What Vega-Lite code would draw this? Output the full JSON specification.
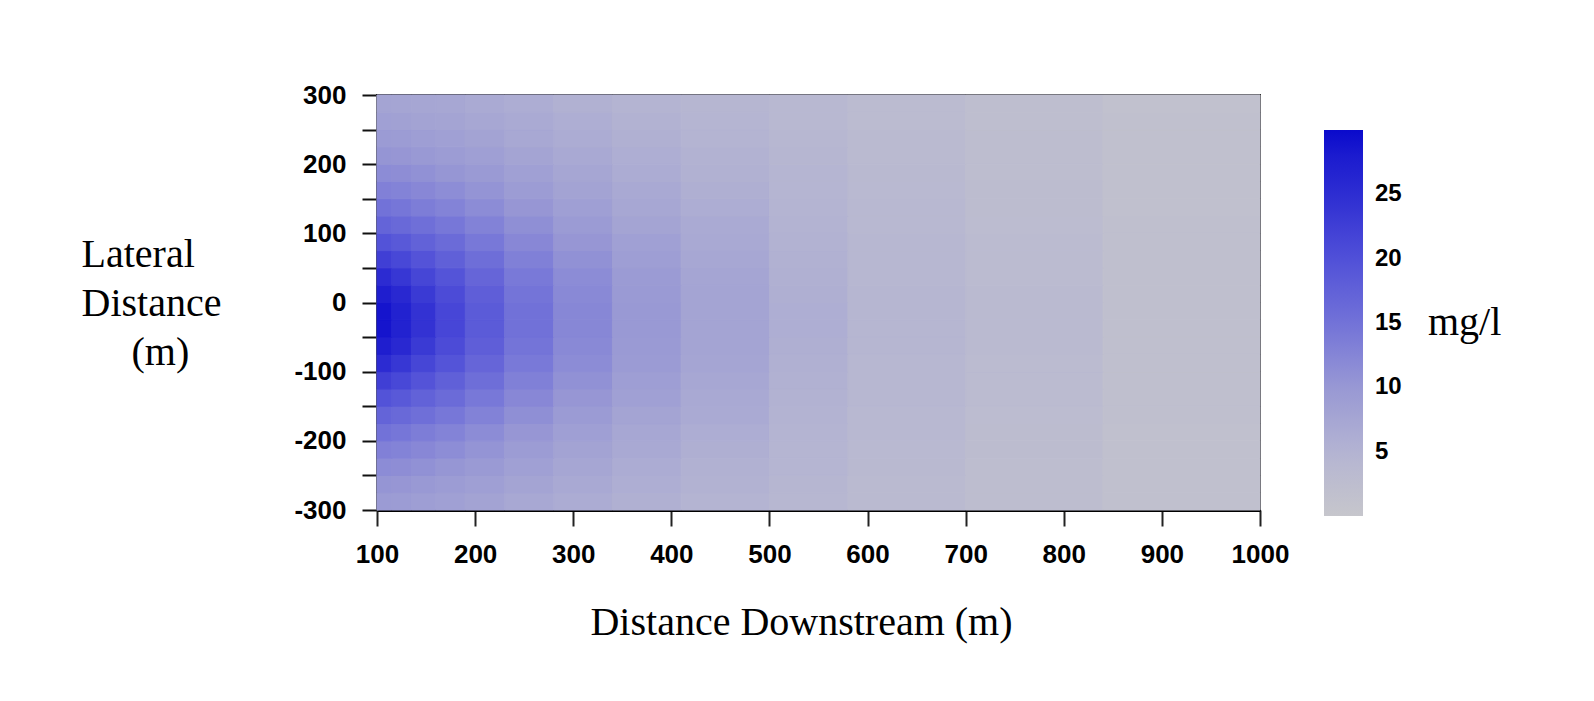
{
"$schema": "https://vega.github.io/schema/vega-lite/v6.json",
"width": 883, "height": 415,
"autosize": {"type": "none"},
"padding": {"left": 377, "top": 95, "right": 334, "bottom": 191},
"background": "white",
"config": {"view": {"stroke": "#333", "strokeWidth": 2}},
"data": {"values": [
{"x":100,"x2":115,"y":-300,"y2":-275,"c":9.4},{"x":115,"x2":135,"y":-300,"y2":-275,"c":9.2},{"x":135,"x2":160,"y":-300,"y2":-275,"c":8.9},{"x":160,"x2":190,"y":-300,"y2":-275,"c":8.5},{"x":190,"x2":230,"y":-300,"y2":-275,"c":8.0},{"x":230,"x2":280,"y":-300,"y2":-275,"c":7.2},{"x":280,"x2":340,"y":-300,"y2":-275,"c":6.4},{"x":340,"x2":410,"y":-300,"y2":-275,"c":5.7},{"x":410,"x2":500,"y":-300,"y2":-275,"c":5.0},{"x":500,"x2":580,"y":-300,"y2":-275,"c":4.2},{"x":580,"x2":700,"y":-300,"y2":-275,"c":3.2},{"x":700,"x2":840,"y":-300,"y2":-275,"c":2.4},{"x":840,"x2":1000,"y":-300,"y2":-275,"c":1.6},
{"x":100,"x2":115,"y":-275,"y2":-250,"c":10.4},{"x":115,"x2":135,"y":-275,"y2":-250,"c":10.2},{"x":135,"x2":160,"y":-275,"y2":-250,"c":9.8},{"x":160,"x2":190,"y":-275,"y2":-250,"c":9.3},{"x":190,"x2":230,"y":-275,"y2":-250,"c":8.7},{"x":230,"x2":280,"y":-275,"y2":-250,"c":7.8},{"x":280,"x2":340,"y":-275,"y2":-250,"c":6.9},{"x":340,"x2":410,"y":-275,"y2":-250,"c":6.0},{"x":410,"x2":500,"y":-275,"y2":-250,"c":5.3},{"x":500,"x2":580,"y":-275,"y2":-250,"c":4.4},{"x":580,"x2":700,"y":-275,"y2":-250,"c":3.4},{"x":700,"x2":840,"y":-275,"y2":-250,"c":2.5},{"x":840,"x2":1000,"y":-275,"y2":-250,"c":1.7},
{"x":100,"x2":115,"y":-250,"y2":-225,"c":11.6},{"x":115,"x2":135,"y":-250,"y2":-225,"c":11.4},{"x":135,"x2":160,"y":-250,"y2":-225,"c":10.9},{"x":160,"x2":190,"y":-250,"y2":-225,"c":10.3},{"x":190,"x2":230,"y":-250,"y2":-225,"c":9.6},{"x":230,"x2":280,"y":-250,"y2":-225,"c":8.5},{"x":280,"x2":340,"y":-250,"y2":-225,"c":7.5},{"x":340,"x2":410,"y":-250,"y2":-225,"c":6.5},{"x":410,"x2":500,"y":-250,"y2":-225,"c":5.6},{"x":500,"x2":580,"y":-250,"y2":-225,"c":4.6},{"x":580,"x2":700,"y":-250,"y2":-225,"c":3.5},{"x":700,"x2":840,"y":-250,"y2":-225,"c":2.6},{"x":840,"x2":1000,"y":-250,"y2":-225,"c":1.7},
{"x":100,"x2":115,"y":-225,"y2":-200,"c":13.1},{"x":115,"x2":135,"y":-225,"y2":-200,"c":12.8},{"x":135,"x2":160,"y":-225,"y2":-200,"c":12.2},{"x":160,"x2":190,"y":-225,"y2":-200,"c":11.5},{"x":190,"x2":230,"y":-225,"y2":-200,"c":10.5},{"x":230,"x2":280,"y":-225,"y2":-200,"c":9.3},{"x":280,"x2":340,"y":-225,"y2":-200,"c":8.1},{"x":340,"x2":410,"y":-225,"y2":-200,"c":6.9},{"x":410,"x2":500,"y":-225,"y2":-200,"c":5.9},{"x":500,"x2":580,"y":-225,"y2":-200,"c":4.8},{"x":580,"x2":700,"y":-225,"y2":-200,"c":3.7},{"x":700,"x2":840,"y":-225,"y2":-200,"c":2.7},{"x":840,"x2":1000,"y":-225,"y2":-200,"c":1.8},
{"x":100,"x2":115,"y":-200,"y2":-175,"c":15.0},{"x":115,"x2":135,"y":-200,"y2":-175,"c":14.5},{"x":135,"x2":160,"y":-200,"y2":-175,"c":13.6},{"x":160,"x2":190,"y":-200,"y2":-175,"c":12.8},{"x":190,"x2":230,"y":-200,"y2":-175,"c":11.6},{"x":230,"x2":280,"y":-200,"y2":-175,"c":10.2},{"x":280,"x2":340,"y":-200,"y2":-175,"c":8.8},{"x":340,"x2":410,"y":-200,"y2":-175,"c":7.4},{"x":410,"x2":500,"y":-200,"y2":-175,"c":6.3},{"x":500,"x2":580,"y":-200,"y2":-175,"c":5.0},{"x":580,"x2":700,"y":-200,"y2":-175,"c":3.8},{"x":700,"x2":840,"y":-200,"y2":-175,"c":2.8},{"x":840,"x2":1000,"y":-200,"y2":-175,"c":1.8},
{"x":100,"x2":115,"y":-175,"y2":-150,"c":17.1},{"x":115,"x2":135,"y":-175,"y2":-150,"c":16.4},{"x":135,"x2":160,"y":-175,"y2":-150,"c":15.4},{"x":160,"x2":190,"y":-175,"y2":-150,"c":14.3},{"x":190,"x2":230,"y":-175,"y2":-150,"c":12.9},{"x":230,"x2":280,"y":-175,"y2":-150,"c":11.2},{"x":280,"x2":340,"y":-175,"y2":-150,"c":9.5},{"x":340,"x2":410,"y":-175,"y2":-150,"c":7.9},{"x":410,"x2":500,"y":-175,"y2":-150,"c":6.7},{"x":500,"x2":580,"y":-175,"y2":-150,"c":5.2},{"x":580,"x2":700,"y":-175,"y2":-150,"c":4.0},{"x":700,"x2":840,"y":-175,"y2":-150,"c":2.9},{"x":840,"x2":1000,"y":-175,"y2":-150,"c":1.9},
{"x":100,"x2":115,"y":-150,"y2":-125,"c":19.6},{"x":115,"x2":135,"y":-150,"y2":-125,"c":18.7},{"x":135,"x2":160,"y":-150,"y2":-125,"c":17.4},{"x":160,"x2":190,"y":-150,"y2":-125,"c":16.0},{"x":190,"x2":230,"y":-150,"y2":-125,"c":14.2},{"x":230,"x2":280,"y":-150,"y2":-125,"c":12.2},{"x":280,"x2":340,"y":-150,"y2":-125,"c":10.2},{"x":340,"x2":410,"y":-150,"y2":-125,"c":8.5},{"x":410,"x2":500,"y":-150,"y2":-125,"c":7.0},{"x":500,"x2":580,"y":-150,"y2":-125,"c":5.4},{"x":580,"x2":700,"y":-150,"y2":-125,"c":4.1},{"x":700,"x2":840,"y":-150,"y2":-125,"c":3.0},{"x":840,"x2":1000,"y":-150,"y2":-125,"c":1.9},
{"x":100,"x2":115,"y":-125,"y2":-100,"c":22.4},{"x":115,"x2":135,"y":-125,"y2":-100,"c":21.2},{"x":135,"x2":160,"y":-125,"y2":-100,"c":19.5},{"x":160,"x2":190,"y":-125,"y2":-100,"c":17.7},{"x":190,"x2":230,"y":-125,"y2":-100,"c":15.6},{"x":230,"x2":280,"y":-125,"y2":-100,"c":13.2},{"x":280,"x2":340,"y":-125,"y2":-100,"c":10.9},{"x":340,"x2":410,"y":-125,"y2":-100,"c":9.0},{"x":410,"x2":500,"y":-125,"y2":-100,"c":7.3},{"x":500,"x2":580,"y":-125,"y2":-100,"c":5.6},{"x":580,"x2":700,"y":-125,"y2":-100,"c":4.2},{"x":700,"x2":840,"y":-125,"y2":-100,"c":3.1},{"x":840,"x2":1000,"y":-125,"y2":-100,"c":1.9},
{"x":100,"x2":115,"y":-100,"y2":-75,"c":25.1},{"x":115,"x2":135,"y":-100,"y2":-75,"c":23.6},{"x":135,"x2":160,"y":-100,"y2":-75,"c":21.5},{"x":160,"x2":190,"y":-100,"y2":-75,"c":19.4},{"x":190,"x2":230,"y":-100,"y2":-75,"c":16.9},{"x":230,"x2":280,"y":-100,"y2":-75,"c":14.1},{"x":280,"x2":340,"y":-100,"y2":-75,"c":11.6},{"x":340,"x2":410,"y":-100,"y2":-75,"c":9.4},{"x":410,"x2":500,"y":-100,"y2":-75,"c":7.6},{"x":500,"x2":580,"y":-100,"y2":-75,"c":5.8},{"x":580,"x2":700,"y":-100,"y2":-75,"c":4.3},{"x":700,"x2":840,"y":-100,"y2":-75,"c":3.1},{"x":840,"x2":1000,"y":-100,"y2":-75,"c":2.0},
{"x":100,"x2":115,"y":-75,"y2":-50,"c":27.5},{"x":115,"x2":135,"y":-75,"y2":-50,"c":25.7},{"x":135,"x2":160,"y":-75,"y2":-50,"c":23.2},{"x":160,"x2":190,"y":-75,"y2":-50,"c":20.7},{"x":190,"x2":230,"y":-75,"y2":-50,"c":17.9},{"x":230,"x2":280,"y":-75,"y2":-50,"c":14.8},{"x":280,"x2":340,"y":-75,"y2":-50,"c":12.0},{"x":340,"x2":410,"y":-75,"y2":-50,"c":9.7},{"x":410,"x2":500,"y":-75,"y2":-50,"c":7.8},{"x":500,"x2":580,"y":-75,"y2":-50,"c":5.9},{"x":580,"x2":700,"y":-75,"y2":-50,"c":4.4},{"x":700,"x2":840,"y":-75,"y2":-50,"c":3.2},{"x":840,"x2":1000,"y":-75,"y2":-50,"c":2.0},
{"x":100,"x2":115,"y":-50,"y2":-25,"c":28.9},{"x":115,"x2":135,"y":-50,"y2":-25,"c":26.9},{"x":135,"x2":160,"y":-50,"y2":-25,"c":24.2},{"x":160,"x2":190,"y":-50,"y2":-25,"c":21.4},{"x":190,"x2":230,"y":-50,"y2":-25,"c":18.4},{"x":230,"x2":280,"y":-50,"y2":-25,"c":15.2},{"x":280,"x2":340,"y":-50,"y2":-25,"c":12.3},{"x":340,"x2":410,"y":-50,"y2":-25,"c":9.9},{"x":410,"x2":500,"y":-50,"y2":-25,"c":7.9},{"x":500,"x2":580,"y":-50,"y2":-25,"c":6.0},{"x":580,"x2":700,"y":-50,"y2":-25,"c":4.4},{"x":700,"x2":840,"y":-50,"y2":-25,"c":3.2},{"x":840,"x2":1000,"y":-50,"y2":-25,"c":2.0},
{"x":100,"x2":115,"y":-25,"y2":0,"c":28.9},{"x":115,"x2":135,"y":-25,"y2":0,"c":26.9},{"x":135,"x2":160,"y":-25,"y2":0,"c":24.2},{"x":160,"x2":190,"y":-25,"y2":0,"c":21.4},{"x":190,"x2":230,"y":-25,"y2":0,"c":18.4},{"x":230,"x2":280,"y":-25,"y2":0,"c":15.2},{"x":280,"x2":340,"y":-25,"y2":0,"c":12.3},{"x":340,"x2":410,"y":-25,"y2":0,"c":9.9},{"x":410,"x2":500,"y":-25,"y2":0,"c":7.9},{"x":500,"x2":580,"y":-25,"y2":0,"c":6.0},{"x":580,"x2":700,"y":-25,"y2":0,"c":4.4},{"x":700,"x2":840,"y":-25,"y2":0,"c":3.2},{"x":840,"x2":1000,"y":-25,"y2":0,"c":2.0},
{"x":100,"x2":115,"y":0,"y2":25,"c":27.5},{"x":115,"x2":135,"y":0,"y2":25,"c":25.7},{"x":135,"x2":160,"y":0,"y2":25,"c":23.2},{"x":160,"x2":190,"y":0,"y2":25,"c":20.7},{"x":190,"x2":230,"y":0,"y2":25,"c":17.9},{"x":230,"x2":280,"y":0,"y2":25,"c":14.8},{"x":280,"x2":340,"y":0,"y2":25,"c":12.0},{"x":340,"x2":410,"y":0,"y2":25,"c":9.7},{"x":410,"x2":500,"y":0,"y2":25,"c":7.8},{"x":500,"x2":580,"y":0,"y2":25,"c":5.9},{"x":580,"x2":700,"y":0,"y2":25,"c":4.4},{"x":700,"x2":840,"y":0,"y2":25,"c":3.2},{"x":840,"x2":1000,"y":0,"y2":25,"c":2.0},
{"x":100,"x2":115,"y":25,"y2":50,"c":25.1},{"x":115,"x2":135,"y":25,"y2":50,"c":23.6},{"x":135,"x2":160,"y":25,"y2":50,"c":21.5},{"x":160,"x2":190,"y":25,"y2":50,"c":19.4},{"x":190,"x2":230,"y":25,"y2":50,"c":16.9},{"x":230,"x2":280,"y":25,"y2":50,"c":14.1},{"x":280,"x2":340,"y":25,"y2":50,"c":11.6},{"x":340,"x2":410,"y":25,"y2":50,"c":9.4},{"x":410,"x2":500,"y":25,"y2":50,"c":7.6},{"x":500,"x2":580,"y":25,"y2":50,"c":5.8},{"x":580,"x2":700,"y":25,"y2":50,"c":4.3},{"x":700,"x2":840,"y":25,"y2":50,"c":3.1},{"x":840,"x2":1000,"y":25,"y2":50,"c":2.0},
{"x":100,"x2":115,"y":50,"y2":75,"c":22.4},{"x":115,"x2":135,"y":50,"y2":75,"c":21.2},{"x":135,"x2":160,"y":50,"y2":75,"c":19.5},{"x":160,"x2":190,"y":50,"y2":75,"c":17.7},{"x":190,"x2":230,"y":50,"y2":75,"c":15.6},{"x":230,"x2":280,"y":50,"y2":75,"c":13.2},{"x":280,"x2":340,"y":50,"y2":75,"c":10.9},{"x":340,"x2":410,"y":50,"y2":75,"c":9.0},{"x":410,"x2":500,"y":50,"y2":75,"c":7.3},{"x":500,"x2":580,"y":50,"y2":75,"c":5.6},{"x":580,"x2":700,"y":50,"y2":75,"c":4.2},{"x":700,"x2":840,"y":50,"y2":75,"c":3.1},{"x":840,"x2":1000,"y":50,"y2":75,"c":1.9},
{"x":100,"x2":115,"y":75,"y2":100,"c":19.6},{"x":115,"x2":135,"y":75,"y2":100,"c":18.7},{"x":135,"x2":160,"y":75,"y2":100,"c":17.4},{"x":160,"x2":190,"y":75,"y2":100,"c":16.0},{"x":190,"x2":230,"y":75,"y2":100,"c":14.2},{"x":230,"x2":280,"y":75,"y2":100,"c":12.2},{"x":280,"x2":340,"y":75,"y2":100,"c":10.2},{"x":340,"x2":410,"y":75,"y2":100,"c":8.5},{"x":410,"x2":500,"y":75,"y2":100,"c":7.0},{"x":500,"x2":580,"y":75,"y2":100,"c":5.4},{"x":580,"x2":700,"y":75,"y2":100,"c":4.1},{"x":700,"x2":840,"y":75,"y2":100,"c":3.0},{"x":840,"x2":1000,"y":75,"y2":100,"c":1.9},
{"x":100,"x2":115,"y":100,"y2":125,"c":17.1},{"x":115,"x2":135,"y":100,"y2":125,"c":16.4},{"x":135,"x2":160,"y":100,"y2":125,"c":15.4},{"x":160,"x2":190,"y":100,"y2":125,"c":14.3},{"x":190,"x2":230,"y":100,"y2":125,"c":12.9},{"x":230,"x2":280,"y":100,"y2":125,"c":11.2},{"x":280,"x2":340,"y":100,"y2":125,"c":9.5},{"x":340,"x2":410,"y":100,"y2":125,"c":7.9},{"x":410,"x2":500,"y":100,"y2":125,"c":6.7},{"x":500,"x2":580,"y":100,"y2":125,"c":5.2},{"x":580,"x2":700,"y":100,"y2":125,"c":4.0},{"x":700,"x2":840,"y":100,"y2":125,"c":2.9},{"x":840,"x2":1000,"y":100,"y2":125,"c":1.9},
{"x":100,"x2":115,"y":125,"y2":150,"c":15.0},{"x":115,"x2":135,"y":125,"y2":150,"c":14.5},{"x":135,"x2":160,"y":125,"y2":150,"c":13.6},{"x":160,"x2":190,"y":125,"y2":150,"c":12.8},{"x":190,"x2":230,"y":125,"y2":150,"c":11.6},{"x":230,"x2":280,"y":125,"y2":150,"c":10.2},{"x":280,"x2":340,"y":125,"y2":150,"c":8.8},{"x":340,"x2":410,"y":125,"y2":150,"c":7.4},{"x":410,"x2":500,"y":125,"y2":150,"c":6.3},{"x":500,"x2":580,"y":125,"y2":150,"c":5.0},{"x":580,"x2":700,"y":125,"y2":150,"c":3.8},{"x":700,"x2":840,"y":125,"y2":150,"c":2.8},{"x":840,"x2":1000,"y":125,"y2":150,"c":1.8},
{"x":100,"x2":115,"y":150,"y2":175,"c":13.1},{"x":115,"x2":135,"y":150,"y2":175,"c":12.8},{"x":135,"x2":160,"y":150,"y2":175,"c":12.2},{"x":160,"x2":190,"y":150,"y2":175,"c":11.5},{"x":190,"x2":230,"y":150,"y2":175,"c":10.5},{"x":230,"x2":280,"y":150,"y2":175,"c":9.3},{"x":280,"x2":340,"y":150,"y2":175,"c":8.1},{"x":340,"x2":410,"y":150,"y2":175,"c":6.9},{"x":410,"x2":500,"y":150,"y2":175,"c":5.9},{"x":500,"x2":580,"y":150,"y2":175,"c":4.8},{"x":580,"x2":700,"y":150,"y2":175,"c":3.7},{"x":700,"x2":840,"y":150,"y2":175,"c":2.7},{"x":840,"x2":1000,"y":150,"y2":175,"c":1.8},
{"x":100,"x2":115,"y":175,"y2":200,"c":11.6},{"x":115,"x2":135,"y":175,"y2":200,"c":11.4},{"x":135,"x2":160,"y":175,"y2":200,"c":10.9},{"x":160,"x2":190,"y":175,"y2":200,"c":10.3},{"x":190,"x2":230,"y":175,"y2":200,"c":9.6},{"x":230,"x2":280,"y":175,"y2":200,"c":8.5},{"x":280,"x2":340,"y":175,"y2":200,"c":7.5},{"x":340,"x2":410,"y":175,"y2":200,"c":6.5},{"x":410,"x2":500,"y":175,"y2":200,"c":5.6},{"x":500,"x2":580,"y":175,"y2":200,"c":4.6},{"x":580,"x2":700,"y":175,"y2":200,"c":3.5},{"x":700,"x2":840,"y":175,"y2":200,"c":2.6},{"x":840,"x2":1000,"y":175,"y2":200,"c":1.7},
{"x":100,"x2":115,"y":200,"y2":225,"c":10.4},{"x":115,"x2":135,"y":200,"y2":225,"c":10.2},{"x":135,"x2":160,"y":200,"y2":225,"c":9.8},{"x":160,"x2":190,"y":200,"y2":225,"c":9.3},{"x":190,"x2":230,"y":200,"y2":225,"c":8.7},{"x":230,"x2":280,"y":200,"y2":225,"c":7.8},{"x":280,"x2":340,"y":200,"y2":225,"c":6.9},{"x":340,"x2":410,"y":200,"y2":225,"c":6.0},{"x":410,"x2":500,"y":200,"y2":225,"c":5.3},{"x":500,"x2":580,"y":200,"y2":225,"c":4.4},{"x":580,"x2":700,"y":200,"y2":225,"c":3.4},{"x":700,"x2":840,"y":200,"y2":225,"c":2.5},{"x":840,"x2":1000,"y":200,"y2":225,"c":1.7},
{"x":100,"x2":115,"y":225,"y2":250,"c":9.4},{"x":115,"x2":135,"y":225,"y2":250,"c":9.2},{"x":135,"x2":160,"y":225,"y2":250,"c":8.9},{"x":160,"x2":190,"y":225,"y2":250,"c":8.5},{"x":190,"x2":230,"y":225,"y2":250,"c":8.0},{"x":230,"x2":280,"y":225,"y2":250,"c":7.2},{"x":280,"x2":340,"y":225,"y2":250,"c":6.4},{"x":340,"x2":410,"y":225,"y2":250,"c":5.7},{"x":410,"x2":500,"y":225,"y2":250,"c":5.0},{"x":500,"x2":580,"y":225,"y2":250,"c":4.2},{"x":580,"x2":700,"y":225,"y2":250,"c":3.2},{"x":700,"x2":840,"y":225,"y2":250,"c":2.4},{"x":840,"x2":1000,"y":225,"y2":250,"c":1.6},
{"x":100,"x2":115,"y":250,"y2":275,"c":8.5},{"x":115,"x2":135,"y":250,"y2":275,"c":8.4},{"x":135,"x2":160,"y":250,"y2":275,"c":8.1},{"x":160,"x2":190,"y":250,"y2":275,"c":7.8},{"x":190,"x2":230,"y":250,"y2":275,"c":7.4},{"x":230,"x2":280,"y":250,"y2":275,"c":6.7},{"x":280,"x2":340,"y":250,"y2":275,"c":6.0},{"x":340,"x2":410,"y":250,"y2":275,"c":5.3},{"x":410,"x2":500,"y":250,"y2":275,"c":4.7},{"x":500,"x2":580,"y":250,"y2":275,"c":4.0},{"x":580,"x2":700,"y":250,"y2":275,"c":3.1},{"x":700,"x2":840,"y":250,"y2":275,"c":2.3},{"x":840,"x2":1000,"y":250,"y2":275,"c":1.6},
{"x":100,"x2":115,"y":275,"y2":300,"c":7.8},{"x":115,"x2":135,"y":275,"y2":300,"c":7.7},{"x":135,"x2":160,"y":275,"y2":300,"c":7.5},{"x":160,"x2":190,"y":275,"y2":300,"c":7.3},{"x":190,"x2":230,"y":275,"y2":300,"c":6.8},{"x":230,"x2":280,"y":275,"y2":300,"c":6.3},{"x":280,"x2":340,"y":275,"y2":300,"c":5.6},{"x":340,"x2":410,"y":275,"y2":300,"c":5.0},{"x":410,"x2":500,"y":275,"y2":300,"c":4.5},{"x":500,"x2":580,"y":275,"y2":300,"c":3.8},{"x":580,"x2":700,"y":275,"y2":300,"c":3.0},{"x":700,"x2":840,"y":275,"y2":300,"c":2.2},{"x":840,"x2":1000,"y":275,"y2":300,"c":1.5}
]},
"mark": {"type": "rect", "strokeWidth": 1, "stroke": {"expr": "scale('color', datum.c)"}},
"encoding": {
"x": {"field": "x", "type": "quantitative",
 "scale": {"domain": [100, 1000], "nice": false, "zero": false},
 "axis": {"title": "Distance Downstream (m)", "values": [100,200,300,400,500,600,700,800,900,1000], "format": "d",
  "grid": false, "labelFlush": false, "labelOverlap": false,
  "labelFont": "Liberation Sans", "labelFontWeight": "bold", "labelFontSize": 26, "labelColor": "#000", "labelPadding": 15,
  "tickSize": 16, "tickWidth": 2, "tickColor": "#222", "domainColor": "#000", "domainWidth": 3,
  "titleFont": "Liberation Serif", "titleFontSize": 40, "titleFontWeight": "normal", "titleColor": "#000",
  "titleBaseline": "alphabetic", "titleAlign": "center", "titleX": 424, "titleY": 124}},
"x2": {"field": "x2"},
"y": {"field": "y", "type": "quantitative",
 "scale": {"domain": [-300, 300], "nice": false, "zero": false},
 "axis": {"title": ["Lateral", "Distance", "\u200b\u00a0\u00a0\u00a0\u00a0\u00a0(m)"],
  "values": [-300,-250,-200,-150,-100,-50,0,50,100,150,200,250,300],
  "labelExpr": "datum.value % 100 === 0 ? '' + datum.value : ''",
  "grid": false, "labelOverlap": false, "labelFlush": false,
  "labelFont": "Liberation Sans", "labelFontWeight": "bold", "labelFontSize": 26, "labelColor": "#000", "labelPadding": 16,
  "tickSize": 15, "tickWidth": 2, "tickColor": "#111", "domainColor": "#777", "domainWidth": 2,
  "titleFont": "Liberation Serif", "titleFontSize": 40, "titleFontWeight": "normal", "titleColor": "#000",
  "titleAngle": 0, "titleAlign": "left", "titleBaseline": "alphabetic", "titleX": -296, "titleY": 171, "titleLineHeight": 49}},
"y2": {"field": "y2"},
"color": {"field": "c", "type": "quantitative",
 "scale": {"domain": [0, 5, 10, 15, 20, 25, 30], "range": ["#c6c6cc", "#b4b4d2", "#9898d4", "#7272d8", "#5050d8", "#2c2cd2", "#0a0acc"]},
 "legend": {"type": "gradient", "title": "mg/l", "orient": "none", "legendX": 947, "legendY": 35, "direction": "vertical",
  "gradientLength": 386, "gradientThickness": 39, "gradientStrokeWidth": 0,
  "values": [5, 10, 15, 20, 25], "labelOverlap": false,
  "labelFont": "Liberation Sans", "labelFontSize": 24, "labelFontWeight": "bold", "labelColor": "#000", "labelOffset": 12,
  "titleOrient": "right", "titleAnchor": "middle", "titleBaseline": "middle", "titlePadding": 26,
  "titleFont": "Liberation Serif", "titleFontSize": 40, "titleFontWeight": "normal", "titleColor": "#000",
  "encoding": {"title": {"angle": {"value": 0}, "align": {"value": "left"}, "baseline": {"value": "middle"}}}}}
}
}
